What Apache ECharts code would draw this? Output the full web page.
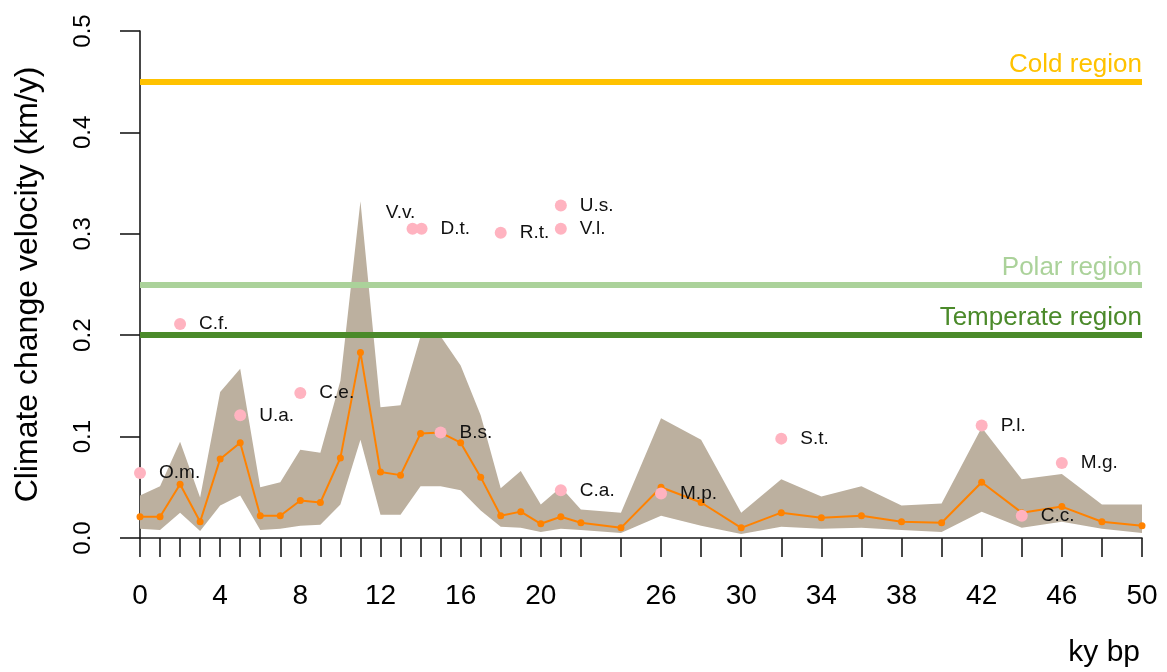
<!DOCTYPE html>
<html>
<head>
<meta charset="utf-8">
<title>Climate change velocity</title>
<script src="https://cdn.jsdelivr.net/npm/echarts@6/dist/echarts.min.js"></script>
<style>
  html, body { margin: 0; padding: 0; background: #fff; }
  #chart { width: 1167px; height: 672px; }
</style>
</head>
<body>
<div id="chart"></div>
<script>
// Time steps (thousand years before present)
const years = [0, 1, 2, 3, 4, 5, 6, 7, 8, 9, 10, 11, 12, 13, 14, 15, 16, 17, 18, 19, 20, 21, 22,
               24, 26, 28, 30, 32, 34, 36, 38, 40, 42, 44, 46, 48, 50];

// Mean climate change velocity (km/y)
const meanVel = [0.021, 0.021, 0.053, 0.016, 0.078, 0.094, 0.022, 0.022, 0.037, 0.035, 0.079, 0.183,
                 0.065, 0.062, 0.103, 0.104, 0.094, 0.060, 0.022, 0.026, 0.014, 0.021, 0.015,
                 0.010, 0.050, 0.035, 0.010, 0.025, 0.020, 0.022, 0.016, 0.015, 0.055, 0.025,
                 0.031, 0.016, 0.012];

// Upper and lower bounds of the velocity envelope
const upperVel = [0.042, 0.051, 0.095, 0.040, 0.144, 0.167, 0.050, 0.055, 0.087, 0.084, 0.155, 0.332,
                  0.129, 0.131, 0.199, 0.199, 0.170, 0.121, 0.049, 0.066, 0.033, 0.050, 0.028,
                  0.025, 0.118, 0.097, 0.025, 0.058, 0.041, 0.051, 0.032, 0.034, 0.109, 0.058,
                  0.063, 0.033, 0.033];
const lowerVel = [0.009, 0.008, 0.025, 0.007, 0.032, 0.042, 0.008, 0.009, 0.012, 0.013, 0.033, 0.097,
                  0.023, 0.023, 0.051, 0.051, 0.047, 0.027, 0.011, 0.010, 0.006, 0.009, 0.008,
                  0.005, 0.022, 0.012, 0.004, 0.011, 0.009, 0.010, 0.008, 0.006, 0.026, 0.010,
                  0.016, 0.009, 0.005];

// Axis ticks and labels
const tickYears = years;
const labelYears = [0, 4, 8, 12, 16, 20, 26, 30, 34, 38, 42, 46, 50];

// Species and the velocity they can track
const species      = ['O.m.', 'C.f.', 'U.a.', 'C.e.', 'V.v.', 'D.t.', 'R.t.', 'U.s.', 'V.l.', 'B.s.',
                      'C.a.', 'M.p.', 'S.t.', 'P.l.', 'C.c.', 'M.g.'];
const speciesYear  = [0, 2, 5, 8, 13.6, 14.05, 18, 21, 21, 15, 21, 26, 32, 42, 44, 46];
const speciesVel   = [0.064, 0.211, 0.121, 0.143, 0.305, 0.305, 0.301, 0.328, 0.305, 0.104,
                      0.047, 0.044, 0.098, 0.111, 0.022, 0.074];

// Reference velocities for the regions
const regionNames  = ['Cold region', 'Polar region', 'Temperate region'];
const regionVel    = [0.45, 0.25, 0.20];
const regionColors = ['#FFC200', '#ABD29A', '#4B8A2A'];

const FONT = '"Liberation Sans", Arial, Helvetica, sans-serif';
const AXIS = '#1a1a1a';

const chart = echarts.init(document.getElementById('chart'), null, { renderer: 'canvas' });

// [year, lower, upper] rows for the envelope polygon
const envelopeData = years.map((x, i) => [x, lowerVel[i], upperVel[i]]);
const meanData  = years.map((x, i) => [x, meanVel[i]]);
const spData    = species.map((n, i) => {
  const item = { value: [speciesYear[i], speciesVel[i]], name: n };
  if (n === 'V.v.') {
    item.label = { position: 'top', distance: 0, offset: [-12, 0] };
  }
  return item;
});

// Draw the whole envelope as one polygon: upper edge left to right, lower edge back
function renderEnvelope(params, api) {
  if (params.dataIndex !== 0) return null;
  const top = envelopeData.map(d => api.coord([d[0], d[2]]));
  const bottom = envelopeData.slice().reverse().map(d => api.coord([d[0], d[1]]));
  return {
    type: 'polygon',
    shape: { points: top.concat(bottom) },
    style: { fill: '#BCB09F', stroke: null }
  };
}

const option = {
  animation: false,
  backgroundColor: '#ffffff',
  textStyle: { fontFamily: FONT },
  grid: { left: 140, right: 25, top: 31, bottom: 134, containLabel: false },
  xAxis: {
    type: 'value',
    min: 0, max: 50, interval: 1,
    splitLine: { show: false },
    axisLine: { show: true, onZero: false, lineStyle: { color: AXIS, width: 1.6 } },
    axisTick: { show: true, inside: false, length: 19, customValues: tickYears,
                lineStyle: { color: AXIS, width: 1.6 } },
    axisLabel: { show: true, customValues: labelYears, fontSize: 28, color: '#000',
                 margin: 44, fontFamily: FONT }
  },
  yAxis: {
    type: 'value',
    min: 0, max: 0.5, interval: 0.1,
    splitLine: { show: false },
    axisLine: { show: true, lineStyle: { color: AXIS, width: 1.6 } },
    axisTick: { show: true, inside: false, length: 20, lineStyle: { color: AXIS, width: 1.6 } },
    axisLabel: { rotate: 90, fontSize: 24, color: '#000', margin: 45, fontFamily: FONT,
                 formatter: v => v.toFixed(1) },
    name: 'Climate change velocity (km/y)',
    nameLocation: 'middle',
    nameRotate: 90,
    nameGap: 96,
    nameTextStyle: { fontSize: 32, color: '#000', fontFamily: FONT }
  },
  graphic: [{
    type: 'text',
    right: 27,
    bottom: 4,
    style: { text: 'ky bp', font: '30px ' + FONT, fill: '#000' }
  }],
  series: [
    {
      name: 'envelope',
      type: 'custom',
      data: envelopeData,
      encode: { x: 0, y: [1, 2] },
      renderItem: renderEnvelope,
      silent: true,
      z: 1
    },
    {
      name: 'regions',
      type: 'line',
      data: [],
      z: 2,
      markLine: {
        silent: true,
        symbol: ['none', 'none'],
        animation: false,
        data: regionNames.map((n, i) => ({
          yAxis: regionVel[i],
          lineStyle: { color: regionColors[i], width: 6, type: 'solid' },
          label: { show: true, position: 'insideEndTop', formatter: n, color: regionColors[i],
                   fontSize: 26, fontFamily: FONT, distance: [0, 4] }
        }))
      }
    },
    {
      name: 'mean',
      type: 'line',
      data: meanData,
      symbol: 'circle',
      symbolSize: 7,
      showAllSymbol: true,
      itemStyle: { color: '#FF8200' },
      lineStyle: { color: '#FF8200', width: 2 },
      z: 3
    },
    {
      name: 'species',
      type: 'scatter',
      data: spData,
      symbolSize: 12,
      itemStyle: { color: '#FFB3C0', opacity: 1 },
      label: { show: true, position: 'right', distance: 13, formatter: p => p.name,
               color: '#111', fontSize: 19, fontFamily: FONT },
      z: 4
    }
  ]
};

chart.setOption(option);
</script>
</body>
</html>
